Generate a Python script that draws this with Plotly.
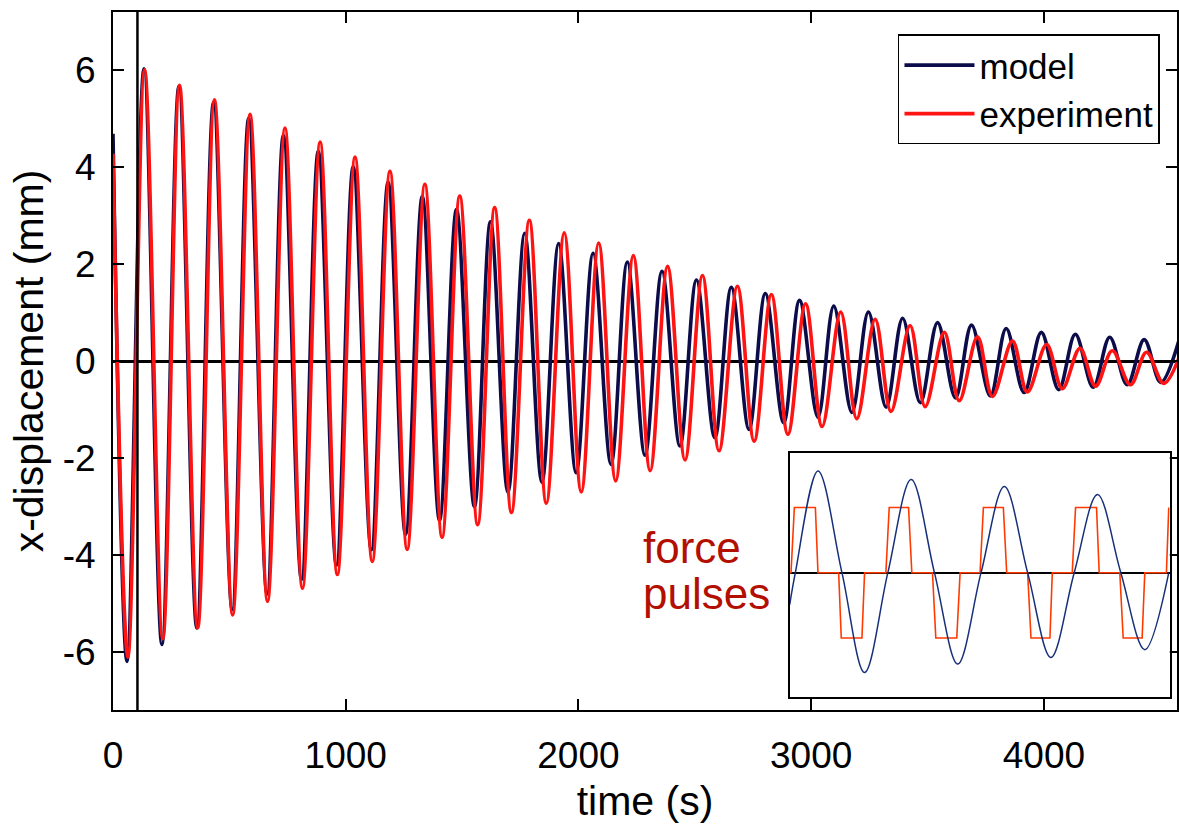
import plotly.graph_objects as go

# ---------------- data ----------------
# main panel: extremes (peaks / troughs) of the damped oscillation, time in s, displacement in mm
model_t = [0, 60, 133, 210, 283, 360, 432, 512, 583, 662, 732, 810, 882, 960, 1032, 1110,
           1182, 1257, 1329, 1403, 1476, 1553, 1622, 1697, 1769, 1843, 1915, 1990, 2063,
           2140, 2210, 2286, 2359, 2436, 2507, 2586, 2657, 2733, 2803, 2882, 2950, 3029,
           3097, 3175, 3246, 3322, 3393, 3469, 3543, 3620, 3689, 3770, 3838, 3915, 3989,
           4064, 4135, 4212, 4283, 4358, 4431, 4502, 4579]
model_v = [4.68, -6.19, 6.02, -5.84, 5.66, -5.50, 5.33, -5.12, 5.00, -4.80, 4.65, -4.50,
           4.32, -4.20, 4.00, -3.89, 3.68, -3.57, 3.39, -3.28, 3.12, -3.00, 2.87, -2.71,
           2.63, -2.50, 2.42, -2.30, 2.22, -2.13, 2.04, -1.94, 1.85, -1.75, 1.67, -1.58,
           1.52, -1.41, 1.39, -1.27, 1.25, -1.16, 1.13, -1.06, 1.01, -0.95, 0.88, -0.86,
           0.79, -0.76, 0.74, -0.72, 0.67, -0.65, 0.59, -0.59, 0.55, -0.54, 0.49, -0.49,
           0.44, -0.44, 0.40]

exp_t = [0, 64, 136, 214, 286, 364, 436, 514, 589, 664, 739, 814, 890, 964, 1040, 1114,
         1190, 1264, 1340, 1414, 1490, 1567, 1640, 1712, 1789, 1862, 1939, 2012, 2087,
         2160, 2236, 2308, 2383, 2458, 2533, 2604, 2683, 2755, 2829, 2900, 2976, 3047,
         3127, 3196, 3275, 3343, 3425, 3490, 3572, 3636, 3715, 3779, 3865, 3929, 4012,
         4079, 4155, 4222, 4294, 4372, 4441, 4515, 4588]
exp_v = [4.27, -6.10, 6.00, -5.72, 5.68, -5.50, 5.38, -5.23, 5.08, -4.95, 4.80, -4.68,
         4.51, -4.40, 4.20, -4.13, 3.91, -3.88, 3.64, -3.63, 3.40, -3.37, 3.16, -3.12,
         2.90, -2.93, 2.64, -2.70, 2.43, -2.47, 2.17, -2.26, 1.95, -2.04, 1.76, -1.85,
         1.54, -1.65, 1.37, -1.51, 1.18, -1.35, 1.01, -1.19, 0.86, -1.04, 0.73, -0.94,
         0.59, -0.82, 0.50, -0.73, 0.41, -0.64, 0.34, -0.57, 0.26, -0.52, 0.21, -0.49,
         0.18, -0.46, 0.16]

pulse_start_t = 105          # vertical marker line (s)

x_ticks = [0, 1000, 2000, 3000, 4000]
y_ticks = [-6, -4, -2, 0, 2, 4, 6]
y_tick_text = ["-6", "-4", "-2", "0", "2", "4", "6"]

# inset: response (model) and force pulses, time in s, normalised amplitude
inset_resp_t = [0, 9.1, 45.5, 84.1, 120.5, 158.0, 195.5, 233.0, 270.5, 308.0, 345.5,
                383.0, 420.5, 458.0, 495.5, 533.0, 571.6, 610.2]
inset_resp_v = [-0.49, 0, 1.56, 0, -1.53, 0, 1.43, 0, -1.40, 0, 1.32, 0, -1.30, 0,
                1.20, 0, -1.18, 0]
pulse_t = [0, 2.1, 7.5, 41.3, 45.5, 78.8, 83.0, 116.3, 120.5, 154.8, 160.2, 191.3, 196.6,
           229.8, 235.2, 268.9, 274.3, 306.4, 311.8, 343.9, 349.3, 383.0, 388.4, 418.9,
           422.7, 454.8, 460.2, 493.9, 498.2, 531.4, 536.8, 567.3, 571.6, 606.4, 610.2]
pulse_v = [0, 0, 1, 1, 0, 0, -1, -1, 0, 0, 1, 1, 0, 0, -1, -1, 0, 0, 1, 1, 0, 0, -1, -1,
           0, 0, 1, 1, 0, 0, -1, -1, 0, 0, 1]

# ---------------- styling ----------------
FONT = "Liberation Sans, Arial, Helvetica, sans-serif"
MODEL_COLOR = "#0c0c4a"
EXP_COLOR = "#ff1414"
INSET_BLUE = "#17307a"
PULSE_COLOR = "#ff3a00"
LABEL_RED = "#b30f00"

fig = go.Figure()

fig.add_trace(go.Scatter(x=model_t, y=model_v, mode="lines", name="model",
                         line=dict(color=MODEL_COLOR, width=3.6, shape="spline", smoothing=1.0)))
fig.add_trace(go.Scatter(x=exp_t, y=exp_v, mode="lines", name="experiment",
                         line=dict(color=EXP_COLOR, width=3.6, shape="spline", smoothing=1.0)))

fig.add_trace(go.Scatter(x=pulse_t, y=pulse_v, mode="lines", showlegend=False,
                         xaxis="x2", yaxis="y2", line=dict(color=PULSE_COLOR, width=1.6)))
fig.add_trace(go.Scatter(x=inset_resp_t, y=inset_resp_v, mode="lines", showlegend=False,
                         xaxis="x2", yaxis="y2",
                         line=dict(color=INSET_BLUE, width=1.5, shape="spline", smoothing=1.0)))

fig.add_vline(x=pulse_start_t, line_color="black", line_width=2.5)

fig.update_layout(
    width=1179, height=824,
    margin=dict(l=113, r=0, t=12, b=114),
    paper_bgcolor="white", plot_bgcolor="white",
    font=dict(family=FONT, color="black", size=37),
    showlegend=True,
    legend=dict(x=0.984, y=0.968, xanchor="right", yanchor="top",
                bgcolor="white", bordercolor="black", borderwidth=1.5,
                font=dict(size=35, family=FONT), itemwidth=70,
                tracegroupgap=0),
    xaxis=dict(range=[0, 4572], tickvals=x_ticks, ticks="inside", ticklen=11,
               tickwidth=1.5, tickcolor="black", showline=True, linecolor="black",
               linewidth=2, mirror="ticks", showgrid=False, zeroline=False,
               tickfont=dict(size=37), ticklabelstandoff=12,
               title=dict(text="time (s)", font=dict(size=41), standoff=14),
               domain=[0, 1]),
    yaxis=dict(range=[-7.19, 7.19], tickvals=y_ticks, ticktext=y_tick_text,
               ticks="inside", ticklen=11, tickwidth=1.5, tickcolor="black",
               showline=True, linecolor="black", linewidth=2, mirror="ticks",
               showgrid=False, zeroline=True, zerolinecolor="black", zerolinewidth=3,
               tickfont=dict(size=37), ticklabelstandoff=8,
               title=dict(text="x-displacement (mm)", font=dict(size=41), standoff=6),
               domain=[0, 1]),
    xaxis2=dict(domain=[0.636, 0.9932], anchor="y2", range=[0, 611.8],
                showticklabels=False, ticks="", showgrid=False, zeroline=False,
                showline=True, linecolor="black", linewidth=2, mirror=True),
    yaxis2=dict(domain=[0.0182, 0.3678], anchor="x2", range=[-1.91, 1.83],
                showticklabels=False, ticks="", showgrid=False, zeroline=True,
                zerolinecolor="black", zerolinewidth=1.5,
                showline=True, linecolor="black", linewidth=2, mirror=True),
)

fig.add_annotation(x=2270, y=-3.85, xref="x", yref="y", text="force", showarrow=False,
                   xanchor="left", yanchor="middle",
                   font=dict(size=44, color=LABEL_RED, family=FONT))
fig.add_annotation(x=2270, y=-4.78, xref="x", yref="y", text="pulses", showarrow=False,
                   xanchor="left", yanchor="middle",
                   font=dict(size=44, color=LABEL_RED, family=FONT))

fig.write_html("out.html", config={"displayModeBar": False},
               post_script="document.body.style.margin='0';")
